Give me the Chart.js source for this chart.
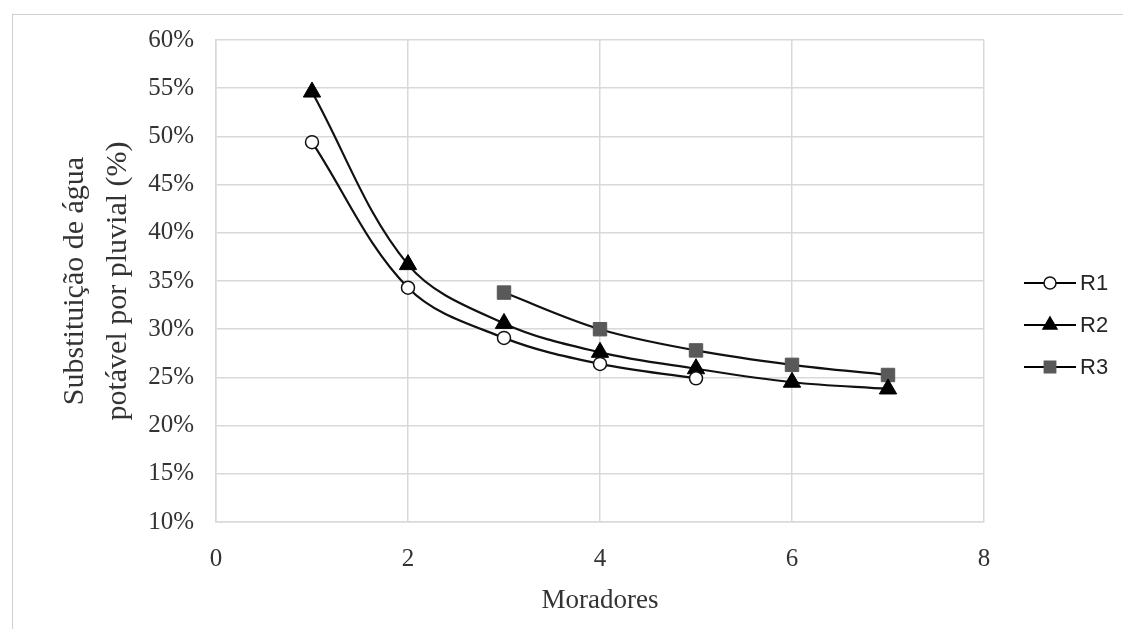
<!DOCTYPE html>
<html>
<head>
<meta charset="utf-8">
<script src="https://cdn.jsdelivr.net/npm/chart.js@4"></script>
<style>
  html, body { margin: 0; padding: 0; background: #fff; }
  #wrap { width: 1123px; height: 629px; position: relative; }
</style>
</head>
<body>
<div id="wrap"><canvas id="grafico" width="1123" height="629"></canvas></div>
<script>
// Dados (moradores x substituição em %)
const moradoresR1 = [1, 2, 3, 4, 5];
const valoresR1 = [49.4, 34.3, 29.1, 26.4, 24.9];

const moradoresR2 = [1, 2, 3, 4, 5, 6, 7];
const valoresR2 = [54.6, 36.7, 30.6, 27.6, 25.9, 24.5, 23.8];

const moradoresR3 = [3, 4, 5, 6, 7];
const valoresR3 = [33.8, 30.0, 27.8, 26.3, 25.25];

const rotulos = ['R1', 'R2', 'R3'];

// monta pares {x, y}
const pares = (xs, ys) => xs.map((x, i) => ({ x: x, y: ys[i] }));

const serif = "'Liberation Serif', 'Times New Roman', serif";

// moldura externa do gráfico
const moldura = {
    id: 'moldura',
    beforeDraw(chart) {
        const ctx = chart.ctx;
        ctx.save();
        ctx.strokeStyle = '#d0d0d0';
        ctx.lineWidth = 1;
        ctx.strokeRect(12.5, 14.5, 1200, 700);
        ctx.restore();
    }
};

// legenda à direita com linha + marcador
const legenda = {
    id: 'legendaLateral',
    afterDraw(chart) {
        const ctx = chart.ctx;
        const linhas = [283, 325, 367];
        chart.data.datasets.forEach((ds, i) => {
            const y = linhas[i];
            ctx.save();
            ctx.strokeStyle = '#000';
            ctx.lineWidth = 2;
            ctx.beginPath();
            ctx.moveTo(1024, y);
            ctx.lineTo(1076, y);
            ctx.stroke();
            ctx.fillStyle = ds.pointBackgroundColor;
            ctx.strokeStyle = ds.pointBorderColor;
            ctx.lineWidth = 1.5;
            Chart.helpers.drawPoint(ctx, {
                pointStyle: ds.pointStyle,
                rotation: 0,
                radius: ds.legendRadius,
                borderWidth: 1.5
            }, 1050, y);
            ctx.fillStyle = '#262626';
            ctx.font = "22px 'Liberation Sans', Arial, sans-serif";
            ctx.textBaseline = 'middle';
            ctx.fillText(ds.label, 1080, y + 1);
            ctx.restore();
        });
    }
};

const ctx = document.getElementById('grafico').getContext('2d');

const grafico = new Chart(ctx, {
    type: 'scatter',
    data: {
        datasets: [{
            label: rotulos[0],
            data: pares(moradoresR1, valoresR1),
            showLine: true,
            borderColor: '#111',
            borderWidth: 2.2,
            tension: 0.35,
            pointStyle: 'circle',
            pointRadius: 6.5,
            pointBackgroundColor: '#fff',
            pointBorderColor: '#111',
            pointBorderWidth: 1.5,
            legendRadius: 6
        }, {
            label: rotulos[1],
            data: pares(moradoresR2, valoresR2),
            showLine: true,
            borderColor: '#111',
            borderWidth: 2.2,
            tension: 0.35,
            pointStyle: 'triangle',
            pointRadius: 10,
            pointBackgroundColor: '#000',
            pointBorderColor: '#000',
            pointBorderWidth: 1,
            legendRadius: 8
        }, {
            label: rotulos[2],
            data: pares(moradoresR3, valoresR3),
            showLine: true,
            borderColor: '#111',
            borderWidth: 2.2,
            tension: 0.35,
            pointStyle: 'rect',
            pointRadius: 9.5,
            pointBackgroundColor: '#595959',
            pointBorderColor: '#595959',
            pointBorderWidth: 1,
            legendRadius: 8
        }]
    },
    options: {
        responsive: false,
        animation: false,
        layout: {
            padding: { left: 0, right: 139, top: 40, bottom: 0 }
        },
        plugins: {
            legend: { display: false },
            tooltip: { enabled: false }
        },
        scales: {
            x: {
                type: 'linear',
                min: 0,
                max: 8,
                afterFit(scale) { scale.height = 107; },
                ticks: {
                    stepSize: 2,
                    padding: 22,
                    color: '#333',
                    font: { family: serif, size: 25 }
                },
                grid: {
                    color: '#d9d9d9',
                    lineWidth: 1.5,
                    drawTicks: false
                },
                border: { color: '#d9d9d9', width: 1.5 },
                title: {
                    display: true,
                    text: 'Moradores',
                    color: '#333',
                    font: { family: serif, size: 27 },
                    padding: { top: 0, bottom: 12 }
                }
            },
            y: {
                min: 10,
                max: 60,
                afterFit(scale) { scale.width = 216; },
                ticks: {
                    stepSize: 5,
                    padding: 22,
                    color: '#333',
                    font: { family: serif, size: 25 },
                    callback: v => v + '%'
                },
                grid: {
                    color: '#d9d9d9',
                    lineWidth: 1.5,
                    drawTicks: false
                },
                border: { color: '#d9d9d9', width: 1.5 },
                title: {
                    display: true,
                    text: ['Substituição de água', 'potável por pluvial (%)'],
                    color: '#333',
                    font: { family: serif, size: 30, lineHeight: 1.43 },
                    padding: { top: 54, bottom: 0 }
                }
            }
        }
    },
    plugins: [moldura, legenda]
});
</script>
</body>
</html>
